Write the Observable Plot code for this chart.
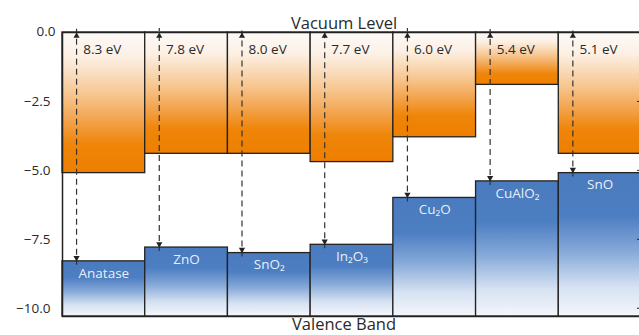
<!DOCTYPE html>
<html>
<head>
<meta charset="utf-8">
<script src="https://cdn.jsdelivr.net/npm/d3@7"></script>
<script src="https://cdn.jsdelivr.net/npm/@observablehq/plot@0.6"></script>
<style>
  html, body { margin: 0; padding: 0; background: #fff; }
</style>
</head>
<body>
<div id="chart"></div>
<script>
// Band edges of transparent conducting oxides relative to the vacuum level (eV)
const materials = ["Anatase", "ZnO", "SnO₂", "In₂O₃", "Cu₂O", "CuAlO₂", "SnO"];
const conductionBand = [-5.1, -4.4, -4.4, -4.7, -3.8, -1.9, -4.4];
const valenceBand = [-8.3, -7.8, -8.0, -7.7, -6.0, -5.4, -5.1];
const yTicks = [0, -2.5, -5, -7.5, -10];
const yDomain = [-10.3, 0];

const rows = materials.map((name, i) => ({
  i,
  name,
  cb: conductionBand[i],
  vb: valenceBand[i],
  gap: `${(-valenceBand[i]).toFixed(1)} eV`
}));

const ink = "#222";
const textInk = "#2a2a2a";
const fmt = d3.format(".1f");
const font = "'Open Sans', sans-serif";

const svg = Plot.plot({
  width: 639,
  height: 335,
  marginTop: 32,
  marginBottom: 19,
  marginLeft: 62,
  marginRight: -2,
  style: { fontFamily: font, fontSize: "13.5px", color: textInk, background: "#fff" },
  x: { domain: [0, materials.length], axis: null },
  y: { domain: yDomain },
  marks: [
    // conduction band (vacuum level down to CB minimum)
    Plot.rect(rows, { x1: "i", x2: d => d.i + 1, y1: 0, y2: "cb", fill: "url(#cbGrad)", stroke: ink, strokeWidth: 1.3 }),
    // valence band (VB maximum down to the bottom of the frame)
    Plot.rect(rows, { x1: "i", x2: d => d.i + 1, y1: "vb", y2: yDomain[0], fill: "url(#vbGrad)", stroke: ink, strokeWidth: 1.3 }),
    // dashed double arrows from the vacuum level to the valence band
    Plot.ruleX(rows, { x: d => d.i + 0.17, y1: "vb", y2: 0, stroke: "#333", strokeWidth: 1.2, strokeDasharray: "6,4", insetTop: 4, insetBottom: 4 }),
    Plot.dot(rows, { x: d => d.i + 0.17, y: 0, dy: 3.5, symbol: "triangle", r: 2.3, fill: ink, stroke: "none" }),
    Plot.dot(rows, { x: d => d.i + 0.17, y: "vb", dy: -3.5, symbol: "triangle", rotate: 180, r: 2.3, fill: ink, stroke: "none" }),
    // ionisation energy labels
    Plot.text(rows, { x: d => d.i + 0.25, y: 0, dy: 17, text: "gap", textAnchor: "start", fontSize: 13.5, fill: textInk }),
    // material names inside the valence band
    Plot.text(rows, { x: d => d.i + 0.5, y: "vb", dy: 12, text: "name", fontSize: 13.5, fill: "#fff", fillOpacity: 0.9 }),
    // inward ticks on both sides
    Plot.tickY(yTicks, { y: d => d, stroke: ink, strokeWidth: 1, insetRight: 579 }),
    Plot.tickY(yTicks, { y: d => d, stroke: ink, strokeWidth: 1, insetLeft: 575 }),
    Plot.axisY({ ticks: yTicks.slice(0, 1), tickSize: 0, tickPadding: 7, dy: -1, tickFormat: d => fmt(d), fontSize: 13.5, label: null }),
    Plot.axisY({ ticks: yTicks.slice(1), tickSize: 0, tickPadding: 12, tickFormat: d => fmt(d), fontSize: 13.5, label: null }),
    Plot.frame({ stroke: ink, strokeWidth: 1.5 }),
    Plot.text(["Vacuum Level"], { frameAnchor: "top", lineAnchor: "bottom", dy: -4, dx: -8, fontSize: 16.5, fill: textInk }),
    Plot.text(["Valence Band"], { frameAnchor: "bottom", lineAnchor: "top", dy: 2, dx: -8, fontSize: 16.5, fill: textInk })
  ]
});

// gradient fills for the band rectangles
const defs = d3.select(svg).insert("defs", ":first-child");
const cb = defs.append("linearGradient").attr("id", "cbGrad").attr("x1", 0).attr("y1", 0).attr("x2", 0).attr("y2", 1);
[[0, "#fdfaf8"], [0.18, "#fcf0e4"], [0.45, "#f7c58e"], [0.62, "#f3a550"], [0.8, "#ef8509"], [1, "#ee7f00"]]
  .forEach(([o, c]) => cb.append("stop").attr("offset", o).attr("stop-color", c));
const vb = defs.append("linearGradient").attr("id", "vbGrad").attr("x1", 0).attr("y1", 0).attr("x2", 0).attr("y2", 1);
[[0, "#4a7bbe"], [0.3, "#4c7ec2"], [0.55, "#86a9d8"], [0.8, "#d6e2f2"], [1, "#f4f6fb"]]
  .forEach(([o, c]) => vb.append("stop").attr("offset", o).attr("stop-color", c));

document.getElementById("chart").appendChild(svg);
</script>
</body>
</html>
